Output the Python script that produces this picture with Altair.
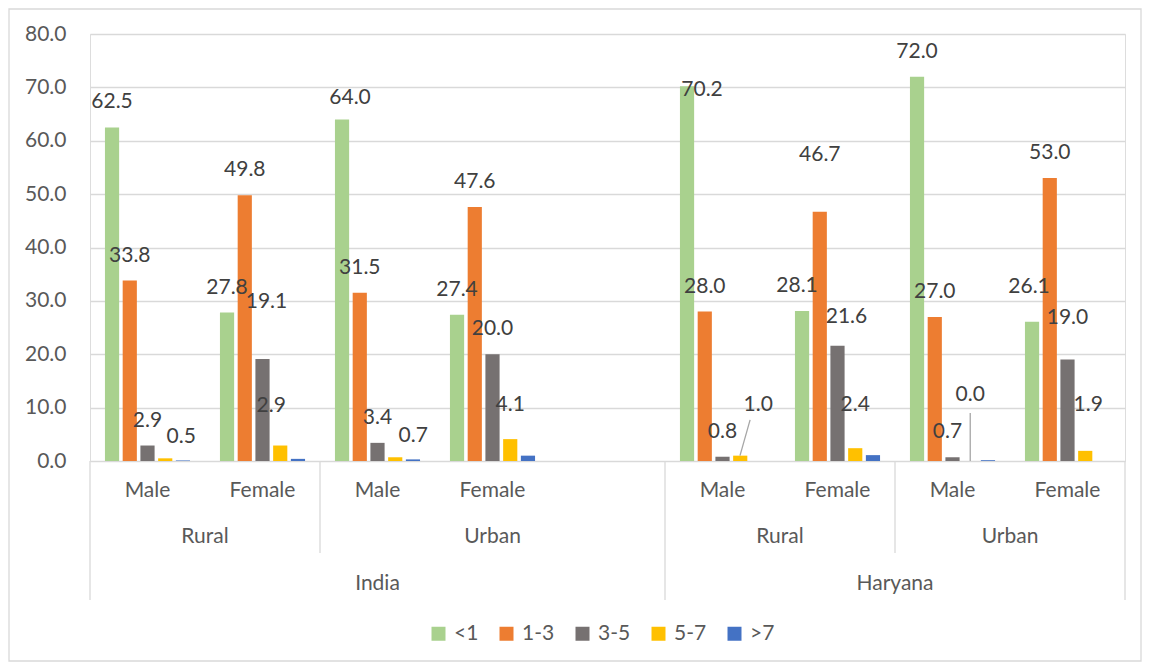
import altair as alt
import pandas as pd

# ---------------- data ----------------
countries = ["India", "Haryana"]
areas = ["Rural", "Urban"]
sexes = ["Male", "Female"]
series = ["<1", "1-3", "3-5", "5-7", ">7"]
colors = ["#A9D18E", "#ED7D31", "#767171", "#FFC000", "#4472C4"]

# order: India Rural M, India Rural F, India Urban M, India Urban F,
#        Haryana Rural M, Haryana Rural F, Haryana Urban M, Haryana Urban F
v_lt1 = [62.5, 27.8, 64.0, 27.4, 70.2, 28.1, 72.0, 26.1]
v_1_3 = [33.8, 49.8, 31.5, 47.6, 28.0, 46.7, 27.0, 53.0]
v_3_5 = [2.9, 19.1, 3.4, 20.0, 0.8, 21.6, 0.7, 19.0]
v_5_7 = [0.5, 2.9, 0.7, 4.1, 1.0, 2.4, 0.0, 1.9]
v_gt7 = [0.1, 0.4, 0.3, 1.0, 0.0, 1.1, 0.15, 0.0]
all_vals = [v_lt1, v_1_3, v_3_5, v_5_7, v_gt7]

# ---------------- build table ----------------
groups = [(c, a, s) for c in countries for a in areas for s in sexes]
slot_order = []
group_slot = []
for c, a, s in groups:
    slot_order.append(f"{c}|{a}|{s}")
    group_slot.append(len(slot_order) - 1)
    if (c, a, s) == ("India", "Urban", "Female"):
        slot_order.append("India|Urban|blank")  # empty category as in source

rows = []
for gi, (c, a, s) in enumerate(groups):
    for si, ser in enumerate(series):
        rows.append({"gi": gi, "slot": f"{c}|{a}|{s}", "series": ser,
                     "value": all_vals[si][gi]})
df = pd.DataFrame(rows)

W, H = 1035, 427
FONT = "Lato"
FS = 21
AX_COL = "#595959"
LBL_COL = "#404040"
GRID = "#D9D9D9"
NSLOT = len(slot_order)

x_band = alt.X("slot:N", scale=alt.Scale(domain=slot_order, paddingInner=0.26,
                                         paddingOuter=0.13), axis=None)
x_off = alt.XOffset("series:N", scale=alt.Scale(domain=series, paddingInner=0.2))
y_enc = alt.Y("value:Q", scale=alt.Scale(domain=[0, 80], nice=False),
              axis=alt.Axis(values=list(range(0, 81, 10)), format=".1f", title=None,
                            domain=False, ticks=False, labelPadding=24,
                            labelFont=FONT, labelFontSize=FS, labelColor=AX_COL,
                            gridColor=GRID, gridWidth=1.3))

bars = alt.Chart(df).mark_bar().encode(
    x=x_band, xOffset=x_off, y=y_enc,
    color=alt.Color("series:N", scale=alt.Scale(domain=series, range=colors),
                    legend=alt.Legend(title=None, orient="none", direction="horizontal",
                                      legendX=338, legendY=589, columns=5,
                                      symbolType="square", symbolSize=196,
                                      symbolStrokeWidth=0, labelFont=FONT,
                                      labelFontSize=FS, labelColor=AX_COL,
                                      labelOffset=5, columnPadding=17, padding=0)),
)

# data labels (Excel-like, some moved by hand in the source)
nudges = {
    (0, "5-7"): (16, 4),
    (1, "3-5"): (4, -32),
    (1, "5-7"): (-9, -15),
    (2, "<1"): (8, 4),
    (2, "5-7"): (18, 4),
    (3, "5-7"): (0, -9),
    (4, "<1"): (15, 29),
    (4, "5-7"): (18, -26),
    (5, "<1"): (-5, 0),
    (5, "1-3"): (0, -32),
    (5, "3-5"): (9, -4),
    (5, "5-7"): (0, -18),
    (6, "3-5"): (-5, 0),
    (6, "5-7"): (0, -41),
    (7, "<1"): (-3, -10),
    (7, "3-5"): (0, -17),
    (7, "5-7"): (3, -21),
}
lab = df[df["series"] != ">7"].copy()
lab["nudge"] = [nudges.get((g, s), (0, 0)) for g, s in zip(lab["gi"], lab["series"])]
text_layers = []
for nd in sorted(set(lab["nudge"])):
    sub = lab[lab["nudge"] == nd].drop(columns=["nudge"])
    text_layers.append(
        alt.Chart(sub).mark_text(font=FONT, fontSize=FS, color=LBL_COL,
                                 baseline="middle", dx=nd[0], dy=-25 + nd[1]).encode(
            x=x_band, xOffset=x_off, y=alt.Y("value:Q"),
            text=alt.Text("value:Q", format=".1f"))
    )

# leader line for the 0.0 label
lead0 = df[(df["gi"] == 6) & (df["series"] == "5-7")]
leader0 = alt.Chart(lead0).mark_rule(color="#A6A6A6", strokeWidth=1.3).encode(
    x=x_band, xOffset=x_off, y=alt.Y("value:Q"), y2=alt.datum(9.0))

# ---------------- multi-level category axis ----------------
lin = alt.Scale(domain=[0, NSLOT], nice=False, zero=False)
sex_df = pd.DataFrame({"label": [s for (_, _, s) in groups],
                       "pos": [group_slot[i] + 0.5 for i in range(len(groups))]})
area_df = pd.DataFrame({"label": ["Rural", "Urban", "Rural", "Urban"],
                        "pos": [1.0, 3.5, 6.0, 8.0]})
ctry_df = pd.DataFrame({"label": countries, "pos": [2.5, 7.0]})


def cat_text(d, yy):
    return alt.Chart(d).mark_text(font=FONT, fontSize=FS, color=AX_COL,
                                  baseline="middle").encode(
        x=alt.X("pos:Q", scale=lin, axis=None), y=alt.value(yy), text="label:N")


short_sep = pd.DataFrame({"pos": [2, 7]})
long_sep = pd.DataFrame({"pos": [0, 5, NSLOT]})
sep_short = alt.Chart(short_sep).mark_rule(color=GRID, strokeWidth=1.3).encode(
    x=alt.X("pos:Q", scale=lin, axis=None), y=alt.value(H), y2=alt.value(H + 92))
sep_long = alt.Chart(long_sep).mark_rule(color=GRID, strokeWidth=1.3).encode(
    x=alt.X("pos:Q", scale=lin, axis=None), y=alt.value(H), y2=alt.value(H + 139))

# leader line for the 1.0 label (Haryana rural male)
lead1 = alt.Chart(pd.DataFrame({"a": [0]})).mark_rule(
    color="#A6A6A6", strokeWidth=1.3).encode(
    x=alt.X(datum=5.652, scale=lin, axis=None), x2=alt.datum(5.74),
    y=alt.datum(1.0), y2=alt.datum(7.7))

border = alt.Chart(pd.DataFrame({"a": [0]})).mark_rect(
    fill=None, stroke=GRID, strokeWidth=1.3).encode(
    x=alt.value(-81), x2=alt.value(W + 16), y=alt.value(-25), y2=alt.value(H + 200))

chart = alt.layer(
    border, bars, *text_layers, leader0, lead1,
    sep_short, sep_long,
    cat_text(sex_df, H + 30), cat_text(area_df, H + 76), cat_text(ctry_df, H + 123),
).resolve_scale(x="independent").properties(
    width=W, height=H,
    autosize=alt.AutoSizeParams(type="none"),
    padding={"left": 82, "top": 26, "right": 18, "bottom": 201},
).configure_view(stroke=None).configure_axis(domain=False, ticks=False).configure(
    background="white")

chart.save("out.html", embed_options={"renderer": "svg", "actions": False})
